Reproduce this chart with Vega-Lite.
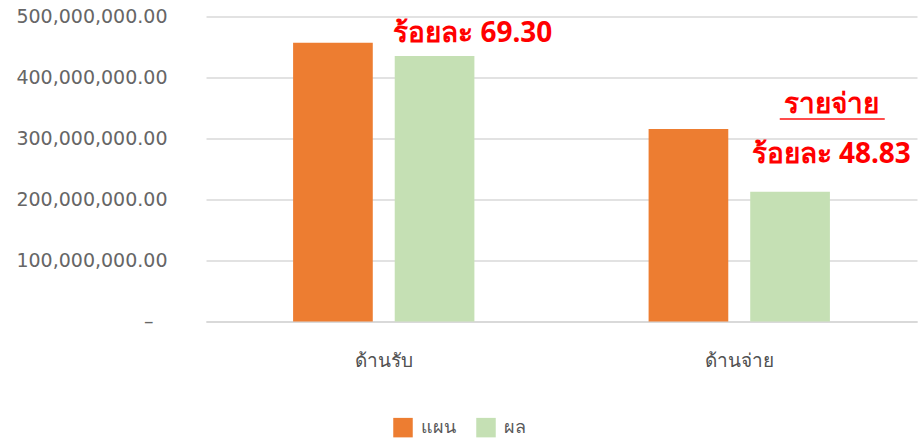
{
  "$schema": "https://vega.github.io/schema/vega-lite/v6.json",
  "autosize": {"type": "none"},
  "width": 711,
  "height": 305,
  "padding": {"left": 206, "top": 16.5, "right": 5, "bottom": 119.5},
  "background": "white",
  "config": {
    "view": {"stroke": null},
    "font": "DejaVu Sans"
  },
  "datasets": {
    "bars": [
      {"cat": "ด้านรับ", "type": "แผน", "value": 457000000},
      {"cat": "ด้านรับ", "type": "ผล", "value": 435200000},
      {"cat": "ด้านจ่าย", "type": "แผน", "value": 315600000},
      {"cat": "ด้านจ่าย", "type": "ผล", "value": 212800000}
    ],
    "notesA": [
      {"cat": "ด้านรับ", "value": 458700000, "label": "ร้อยละ 69.30"}
    ],
    "notesB": [
      {"cat": "ด้านจ่าย", "value": 341800000, "label": "รายจ่าย"},
      {"cat": "ด้านจ่าย", "value": 259800000, "label": "ร้อยละ 48.83"}
    ],
    "underline": [
      {"cat": "ด้านจ่าย", "value": 332000000}
    ]
  },
  "encoding": {
    "x": {
      "field": "cat",
      "type": "nominal",
      "sort": ["ด้านรับ", "ด้านจ่าย"],
      "scale": {"paddingInner": 0.49, "paddingOuter": 0.245},
      "axis": {
        "title": null,
        "labelAngle": 0,
        "ticks": false,
        "domain": true,
        "domainColor": "#d9d9d9",
        "domainWidth": 2,
        "labelColor": "#505050",
        "labelFontSize": 19,
        "labelFont": "Noto Sans",
        "labelFontWeight": 500,
        "labelPadding": 30,
        "grid": false
      }
    },
    "y": {
      "field": "value",
      "type": "quantitative",
      "scale": {"domain": [0, 500000000], "nice": false},
      "axis": {
        "title": null,
        "values": [0, 100000000, 200000000, 300000000, 400000000, 500000000],
        "labelExpr": "datum.value == 0 ? '–' : format(datum.value, ',.2f')",
        "domain": false,
        "ticks": false,
        "tickSize": 0,
        "labelPadding": {"condition": {"test": "datum.value == 0", "value": 53}, "value": 39},
        "labelColor": "#666666",
        "labelFontSize": 19,
        "labelFont": "DejaVu Sans",
        "gridColor": "#d9d9d9",
        "gridWidth": 1.5
      }
    }
  },
  "layer": [
    {
      "data": {"name": "bars"},
      "mark": {"type": "bar"},
      "encoding": {
        "xOffset": {
          "field": "type",
          "type": "nominal",
          "sort": ["แผน", "ผล"],
          "scale": {"paddingInner": 0.216, "paddingOuter": 0}
        },
        "color": {
          "field": "type",
          "type": "nominal",
          "sort": ["แผน", "ผล"],
          "scale": {"domain": ["แผน", "ผล"], "range": ["#ED7D31", "#C5E0B4"]},
          "legend": {
            "title": null,
            "orient": "none",
            "direction": "horizontal",
            "legendX": 187,
            "legendY": 401,
            "symbolType": "square",
            "symbolSize": 380,
            "symbolStrokeWidth": 0,
            "labelFont": "Noto Sans",
            "labelFontSize": 18,
            "labelColor": "#595959",
            "labelOffset": 8,
            "columnPadding": 20
          }
        }
      }
    },
    {
      "data": {"name": "notesA"},
      "mark": {"type": "text", "color": "#FF0000", "font": "Noto Sans", "fontSize": 28, "fontWeight": "bold", "align": "center", "baseline": "alphabetic", "dx": 89},
      "encoding": {
        "text": {"field": "label"}
      }
    },
    {
      "data": {"name": "notesB"},
      "mark": {"type": "text", "color": "#FF0000", "font": "Noto Sans", "fontSize": 28, "fontWeight": "bold", "align": "center", "baseline": "alphabetic", "dx": 92},
      "encoding": {
        "text": {"field": "label"}
      }
    },
    {
      "data": {"name": "underline"},
      "mark": {"type": "tick", "color": "#FF0000", "thickness": 2, "size": 105, "xOffset": 93},
      "encoding": {}
    }
  ]
}
